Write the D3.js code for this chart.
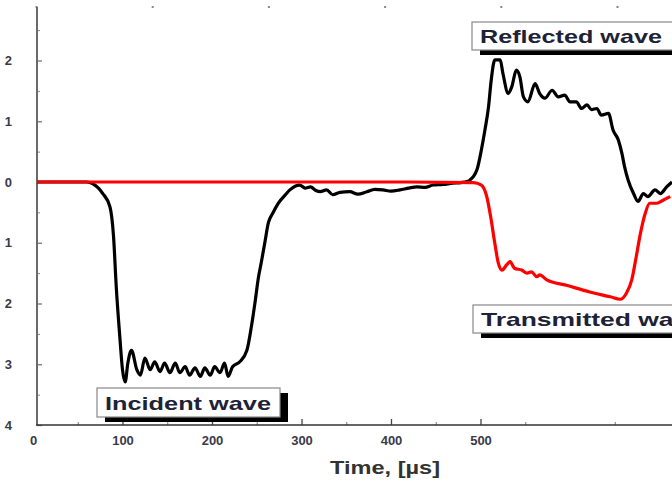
<!DOCTYPE html>
<html>
<head>
<meta charset="utf-8">
<script src="https://cdn.jsdelivr.net/npm/d3@7"></script>
<style>
  body { margin: 0; background: #fff; }
  svg { display: block; }
  .tick text { font-family: "Liberation Sans", Arial, sans-serif; font-weight: bold; font-size: 13px; fill: #3a3a48; }
  .wave-label { font-family: "Liberation Sans", Arial, sans-serif; font-weight: bold; font-size: 19px; fill: #1e2236; }
</style>
</head>
<body>
<div id="viz_container"></div>
<script>
// chart data (time in µs, signal in V)
const blackTime = [0, 20, 40, 60, 67, 78, 86, 90, 93, 97, 100, 103, 106, 110, 116, 120, 125, 131, 136, 142, 147, 153, 159, 164, 170, 175, 181, 187, 192, 198, 203, 209, 214, 218, 223, 231, 239, 244, 248, 252, 255, 259, 263, 268, 274, 282, 287, 298, 304, 310, 316, 321, 328, 335, 343, 354, 363, 373, 382, 391, 400, 410, 420, 429, 438, 447, 458, 469, 478, 485, 488, 496, 501, 505, 509, 512, 516, 522, 525, 531, 535, 540, 544, 548, 553, 561, 566, 572, 580, 587, 594, 600, 607, 613, 619, 624, 630, 635, 643, 648, 654, 658, 661, 665, 671, 676, 682, 687, 695, 701, 708, 714];
const blackValue = [0, 0, 0, 0, -0.03, -0.19, -0.41, -0.9, -1.72, -2.55, -3.09, -3.29, -2.98, -2.77, -3.09, -3.18, -2.9, -3.09, -2.96, -3.12, -2.98, -3.14, -2.98, -3.14, -3.04, -3.18, -3.06, -3.2, -3.06, -3.18, -3.04, -3.14, -2.98, -3.2, -3.04, -2.96, -2.77, -2.38, -1.99, -1.56, -1.33, -1.0, -0.67, -0.51, -0.35, -0.21, -0.13, -0.05, -0.1, -0.08, -0.14, -0.16, -0.13, -0.21, -0.17, -0.16, -0.2, -0.16, -0.12, -0.13, -0.15, -0.13, -0.1, -0.08, -0.09, -0.05, -0.04, -0.02, -0.01, 0.01, 0.03, 0.2, 0.53, 0.86, 1.24, 1.68, 2.01, 2.01, 1.79, 1.46, 1.57, 1.84, 1.73, 1.4, 1.32, 1.62, 1.46, 1.38, 1.51, 1.4, 1.43, 1.32, 1.32, 1.21, 1.27, 1.19, 1.21, 1.1, 1.13, 0.86, 0.69, 0.47, 0.25, 0.03, -0.19, -0.32, -0.19, -0.24, -0.13, -0.19, -0.08, 0.0];

const redTime = [0, 100, 200, 300, 400, 492, 501, 507, 512, 516, 520, 524, 529, 533, 538, 546, 552, 557, 563, 566, 574, 596, 622, 645, 656, 663, 669, 674, 678, 684, 689, 697, 704, 712];
const redValue = [0, 0, 0, 0, 0, -0.01, -0.05, -0.24, -0.63, -1.01, -1.34, -1.45, -1.37, -1.31, -1.42, -1.45, -1.5, -1.48, -1.56, -1.53, -1.61, -1.7, -1.81, -1.89, -1.93, -1.83, -1.61, -1.23, -0.9, -0.52, -0.35, -0.35, -0.3, -0.24];

const xTicks = [0, 100, 200, 300, 400, 500];
const xMinorTicks = [50, 150, 250, 350, 450, 550, 650];
const yTicks = [2, 1, 0, -1, -2, -3, -4];
const yTickLabels = ["2", "1", "0", "1", "2", "3", "4"];
const yMinorTicks = [2.5, 1.5, 0.5, -0.5, -1.5, -2.5, -3.5];
const topTicks = [0, 1, 2, 3, 4, 5];

const labels = [
  {text: "Incident wave", x: 97, y: 388, w: 183, h: 29, tl: 166},
  {text: "Reflected wave", x: 472, y: 22, w: 215, h: 28, tl: 182},
  {text: "Transmitted wave", x: 473, y: 305, w: 240, h: 28, tl: 222}
];

const W = 672, H = 485;
const axisX = 37, axisY = 425;

const svg = d3.select("#viz_container")
  .append("svg")
    .attr("width", W)
    .attr("height", H);

// scales
const xScale = d3.scaleLinear()
  .domain([0, 500])
  .range([33, 480.5]);

const yScale = d3.scaleLinear()
  .domain([-4, 0])
  .range([axisY, 182]);

const topScale = d3.scaleLinear()
  .domain([0, 5])
  .range([36, 617]);

svg.append("clipPath").attr("id", "plot-clip")
  .append("rect")
    .attr("x", axisX).attr("y", 0)
    .attr("width", W - axisX).attr("height", axisY);

// x axis minor + major ticks (pointing inside)
svg.append("g")
  .attr("transform", `translate(0, ${axisY})`)
  .call(d3.axisTop(xScale).tickValues(xMinorTicks).tickSize(3).tickFormat(""))
  .call(g => g.select(".domain").remove())
  .call(g => g.selectAll("line").attr("stroke", "#777"));

svg.append("g")
  .attr("transform", `translate(0, ${axisY})`)
  .call(d3.axisTop(xScale).tickValues(xTicks.filter(d => d > 0)).tickSize(6).tickFormat(""))
  .call(g => g.select(".domain").remove())
  .call(g => g.selectAll("line").attr("stroke", "#444").attr("stroke-width", 1.3));

svg.append("g")
  .attr("transform", `translate(0, ${axisY})`)
  .call(d3.axisBottom(xScale).tickValues(xTicks).tickSize(0).tickPadding(11).tickFormat(d3.format("d")))
  .call(g => g.select(".domain").remove());

// y axis ticks
svg.append("g")
  .attr("transform", `translate(${axisX}, 0)`)
  .call(d3.axisRight(yScale).tickValues(yMinorTicks).tickSize(3).tickFormat(""))
  .call(g => g.select(".domain").remove())
  .call(g => g.selectAll("line").attr("stroke", "#888"));

svg.append("g")
  .attr("transform", `translate(${axisX}, 0)`)
  .call(d3.axisRight(yScale).tickValues(yTicks).tickSize(5).tickFormat(""))
  .call(g => g.select(".domain").remove())
  .call(g => g.selectAll("line").attr("stroke", "#777").attr("stroke-width", 1.3));

svg.append("g")
  .attr("transform", `translate(12, 0)`)
  .call(d3.axisLeft(yScale).tickValues(yTicks).tickSize(0).tickPadding(0)
    .tickFormat((d, i) => yTickLabels[i]))
  .call(g => g.select(".domain").remove());

// top ticks (faint)
svg.append("g")
  .attr("transform", `translate(0, 8)`)
  .call(d3.axisTop(topScale).tickValues(topTicks).tickSize(2).tickFormat(""))
  .call(g => g.select(".domain").remove())
  .call(g => g.selectAll("line").attr("stroke", "#888").attr("stroke-width", 2));

// axis lines
svg.append("line")
  .attr("x1", axisX).attr("x2", axisX)
  .attr("y1", 7).attr("y2", axisY)
  .attr("stroke", "#6a6a6a").attr("stroke-width", 2);

svg.append("line")
  .attr("x1", axisX - 1).attr("x2", W)
  .attr("y1", axisY).attr("y2", axisY)
  .attr("stroke", "#333").attr("stroke-width", 1.6);

// lines
const line = d3.line()
  .x(d => xScale(d[0]))
  .y(d => yScale(d[1]))
  .curve(d3.curveMonotoneX);

const plot = svg.append("g").attr("clip-path", "url(#plot-clip)");

plot.append("path")
  .datum(d3.zip(blackTime, blackValue))
  .attr("fill", "none")
  .attr("stroke", "#000")
  .attr("stroke-width", 3.2)
  .attr("stroke-linejoin", "round")
  .attr("d", line);

plot.append("path")
  .datum(d3.zip(redTime, redValue))
  .attr("fill", "none")
  .attr("stroke", "#ff0000")
  .attr("stroke-width", 3.2)
  .attr("stroke-linejoin", "round")
  .attr("d", line);

// wave labels with shadow boxes
const lab = svg.selectAll("g.wave")
  .data(labels)
  .join("g")
    .attr("class", "wave");

lab.append("rect")
  .attr("x", d => d.x + 8)
  .attr("y", d => d.y + 5)
  .attr("width", d => d.w)
  .attr("height", d => d.h)
  .attr("fill", "#000");

lab.append("rect")
  .attr("x", d => d.x)
  .attr("y", d => d.y)
  .attr("width", d => d.w)
  .attr("height", d => d.h)
  .attr("fill", "#fff")
  .attr("stroke", "#888")
  .attr("stroke-width", 1.2);

lab.append("text")
  .attr("class", "wave-label")
  .attr("x", d => d.x + 8)
  .attr("y", d => d.y + d.h / 2 + 7)
  .attr("textLength", d => d.tl)
  .attr("lengthAdjust", "spacingAndGlyphs")
  .text(d => d.text);

// x axis title
svg.append("text")
  .attr("x", 385)
  .attr("y", 474)
  .attr("text-anchor", "middle")
  .attr("textLength", 110)
  .attr("lengthAdjust", "spacingAndGlyphs")
  .style("font-family", "Liberation Sans, Arial, sans-serif")
  .style("font-weight", "bold")
  .style("font-size", "18px")
  .style("fill", "#333")
  .text("Time, [µs]");
</script>
</body>
</html>
